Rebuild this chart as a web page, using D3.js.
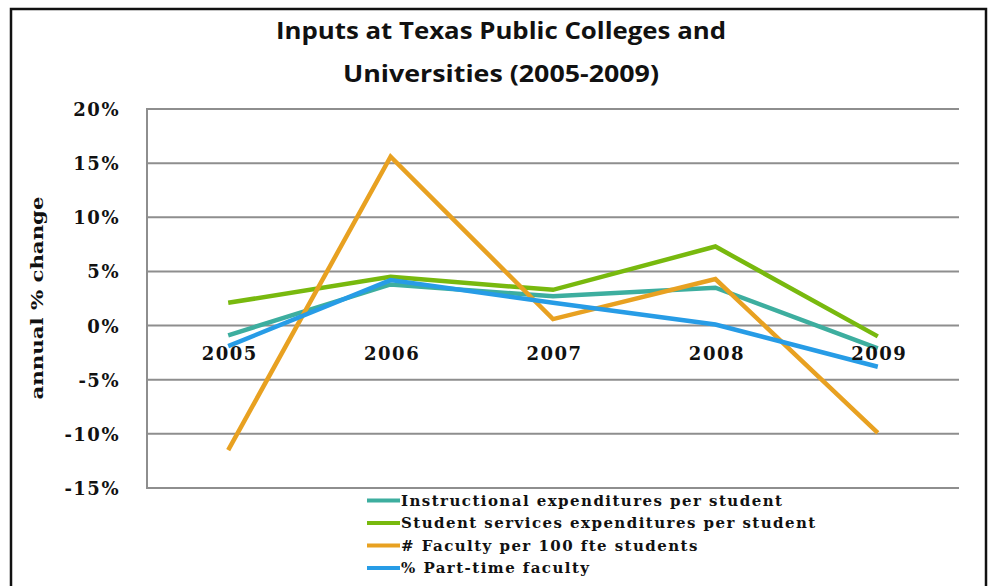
<!DOCTYPE html>
<html><head><meta charset="utf-8">
<script src="https://cdn.jsdelivr.net/npm/d3@7"></script>
<style>body{margin:0;background:#fff}svg{display:block}</style>
</head><body>
<script>
const years = ["2005","2006","2007","2008","2009"];
const seriesNames = ["Instructional expenditures per student","Student services expenditures per student","# Faculty per 100 fte students","% Part-time faculty"];
const instructional = [-0.9, 3.8, 2.7, 3.5, -2.1];
const studentServices = [2.1, 4.5, 3.3, 7.3, -1.0];
const facultyPer100 = [-11.5, 15.6, 0.6, 4.3, -9.9];
const partTime = [-1.9, 4.2, 2.1, 0.1, -3.8];
const yTicks = [20, 15, 10, 5, 0, -5, -10, -15];
const colors = ["#3DAE9F", "#78B90E", "#E8A121", "#279CE6"];
const titleLines = ["Inputs at Texas Public Colleges and", "Universities (2005-2009)"];

(function () {
const W = 989, H = 586;
const svg = d3.select("body").append("svg").attr("width", W).attr("height", H);
svg.append("rect").attr("width", W).attr("height", H).attr("fill", "#fff");

// frame
svg.append("rect").attr("x", 11).attr("y", 9).attr("width", 975).attr("height", 620)
  .attr("fill", "none").attr("stroke", "#111").attr("stroke-width", 2.5);

const pL = 147, pR = 959, pT = 109, pB = 488;
const x = d3.scalePoint().domain(years).range([pL, pR]).padding(0.5);
const y = d3.scaleLinear().domain([-15, 20]).range([pB, pT]);

// title
const tFont = "'Open Sans', sans-serif";
svg.append("text").attr("x", 501).attr("y", 39).attr("text-anchor", "middle")
  .attr("font-family", tFont).attr("font-weight", 700).attr("font-size", 24)
  .attr("textLength", 450).attr("lengthAdjust", "spacingAndGlyphs").attr("fill", "#111")
  .text(titleLines[0]);
svg.append("text").attr("x", 501).attr("y", 82).attr("text-anchor", "middle")
  .attr("font-family", tFont).attr("font-weight", 700).attr("font-size", 24)
  .attr("textLength", 316).attr("lengthAdjust", "spacingAndGlyphs").attr("fill", "#111")
  .text(titleLines[1]);

// gridlines
const gridColor = "#8e8e8e";
svg.append("g").selectAll("line").data(yTicks).join("line")
  .attr("x1", pL).attr("x2", pR)
  .attr("y1", d => y(d)).attr("y2", d => y(d))
  .attr("stroke", gridColor).attr("stroke-width", 2);
svg.append("line").attr("x1", pL).attr("x2", pL).attr("y1", pT - 1).attr("y2", pB + 1)
  .attr("stroke", gridColor).attr("stroke-width", 2);

const lblFont = "'DejaVu Serif', serif";
// y tick labels
const yAxis = d3.axisLeft(y).tickValues(yTicks).tickFormat(d => d + "%").tickSize(0).tickPadding(0);
const ya = svg.append("g").attr("transform", `translate(120,0)`).call(yAxis);
ya.select(".domain").remove();
ya.selectAll("text").attr("font-family", lblFont).attr("font-weight", "bold")
  .attr("font-size", 18).attr("letter-spacing", 1.5).attr("fill", "#111").attr("dy", "0.36em");

// y title
svg.append("text").attr("transform", "translate(43,298) rotate(-90)").attr("text-anchor", "middle")
  .attr("font-family", lblFont).attr("font-weight", "bold").attr("font-size", 17)
  .attr("textLength", 203).attr("lengthAdjust", "spacingAndGlyphs").attr("fill", "#111")
  .text("annual % change");

// lines
const allSeries = [instructional, studentServices, facultyPer100, partTime];
const line = d3.line().x((d, i) => x(years[i])).y(d => y(d));
svg.append("g").selectAll("path").data(allSeries).join("path")
  .attr("d", d => line(d)).attr("fill", "none")
  .attr("stroke", (d, i) => colors[i]).attr("stroke-width", 4.5)
  .attr("stroke-linejoin", "miter").attr("stroke-linecap", "butt");

// x category labels at zero line
const xAxis = d3.axisBottom(x).tickSize(0).tickPadding(0);
const xa = svg.append("g").attr("transform", `translate(1,${y(0) + 28})`).call(xAxis);
xa.select(".domain").remove();
xa.selectAll("text").attr("font-family", lblFont).attr("font-weight", "bold")
  .attr("font-size", 18).attr("letter-spacing", 1.5).attr("fill", "#111").attr("dy", "0.36em");

// legend
const lg = svg.append("g");
const rowY = i => 500.5 + i * 22.5;
lg.selectAll("line").data(seriesNames).join("line")
  .attr("x1", 367).attr("x2", 400).attr("y1", (d, i) => rowY(i)).attr("y2", (d, i) => rowY(i))
  .attr("stroke", (d, i) => colors[i]).attr("stroke-width", 4);
lg.selectAll("text").data(seriesNames).join("text")
  .attr("x", 401).attr("y", (d, i) => rowY(i)).attr("dy", "0.36em")
  .attr("font-family", lblFont).attr("font-weight", "bold").attr("font-size", 15)
  .attr("letter-spacing", 1.45).attr("fill", "#111").text(d => d);
})();
</script>
</body></html>
